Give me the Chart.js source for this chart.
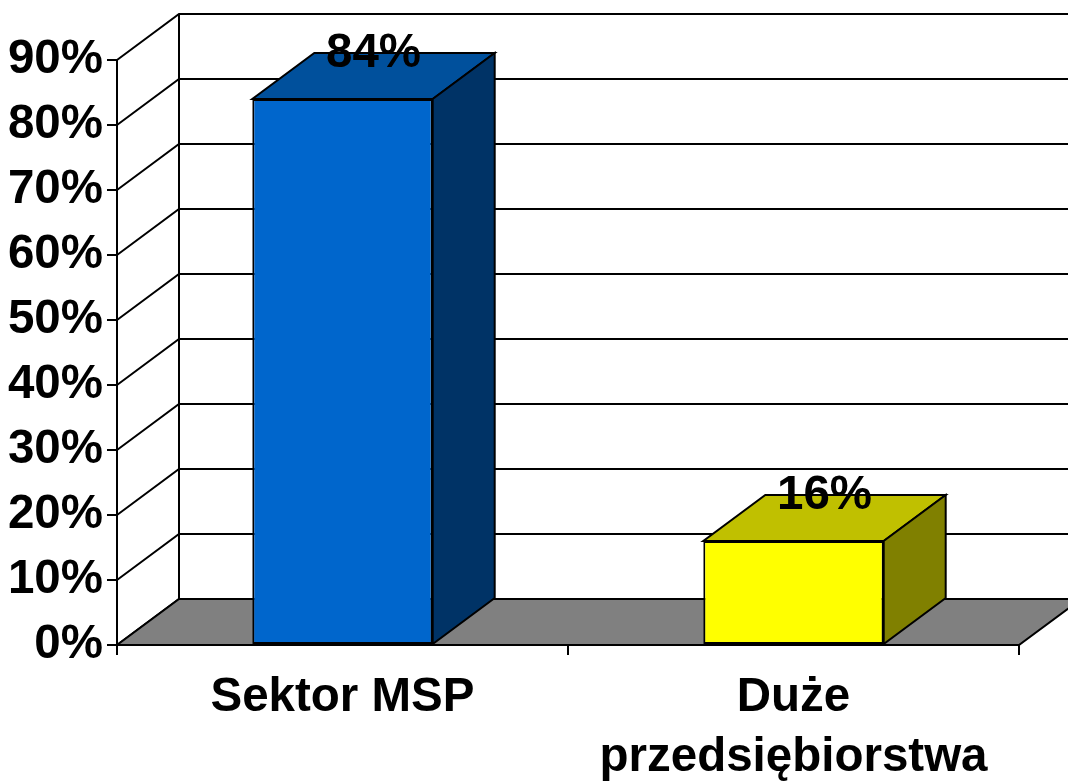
<!DOCTYPE html>
<html>
<head>
<meta charset="utf-8">
<script src="https://cdn.jsdelivr.net/npm/chart.js@4/dist/chart.umd.min.js"></script>
<style>
  html, body { margin: 0; padding: 0; background: #ffffff; }
  #wrap { width: 1068px; height: 782px; }
</style>
</head>
<body>
<div id="wrap"><canvas id="c" width="1068" height="782"></canvas></div>
<script>
// ---- data ----
const categories = [['Sektor MSP'], ['Duże', 'przedsiębiorstwa']];
const shares = [84, 16];
const yMin = 0;
const yMax = 90;
const yStep = 10;

// ---- styles ----
const frontColors = ['#0066CC', '#FFFF00'];
const topColors = ['#00509C', '#C0C000'];
const sideColors = ['#003366', '#808000'];
const floorColor = '#808080';
const DX = 62, DY = 46;
const LW = 2;
const FONT = '"Liberation Sans", Arial, sans-serif';
const FSIZE = 47.5;

const threeD = {
  id: 'threeD',
  beforeDatasetsDraw(chart) {
    const { ctx, chartArea: { left, right, top, bottom }, scales: { y } } = chart;
    ctx.save();
    ctx.strokeStyle = '#000';
    ctx.lineWidth = LW;
    // left wall diagonals + back wall gridlines
    y.ticks.forEach(t => {
      const py = y.getPixelForValue(t.value);
      ctx.beginPath();
      ctx.moveTo(left, py);
      ctx.lineTo(left + DX, py - DY);
      ctx.lineTo(chart.width + 5, py - DY);
      ctx.stroke();
    });
    // back wall left edge
    ctx.beginPath();
    ctx.moveTo(left + DX, bottom - DY);
    ctx.lineTo(left + DX, y.getPixelForValue(yMax) - DY);
    ctx.stroke();
    // floor
    ctx.beginPath();
    ctx.moveTo(left, bottom);
    ctx.lineTo(right, bottom);
    ctx.lineTo(right + DX, bottom - DY);
    ctx.lineTo(left + DX, bottom - DY);
    ctx.closePath();
    ctx.fillStyle = floorColor;
    ctx.fill();
    ctx.stroke();
    ctx.restore();
  },
  afterDatasetsDraw(chart) {
    const { ctx } = chart;
    const meta = chart.getDatasetMeta(0);
    ctx.save();
    ctx.strokeStyle = '#000';
    ctx.lineWidth = LW;
    ctx.lineJoin = 'miter';
    meta.data.forEach((bar, i) => {
      const p = bar.getProps(['x', 'y', 'base', 'width'], true);
      const l = p.x - p.width / 2, r = p.x + p.width / 2;
      // top face
      ctx.beginPath();
      ctx.moveTo(l, p.y);
      ctx.lineTo(r, p.y);
      ctx.lineTo(r + DX, p.y - DY);
      ctx.lineTo(l + DX, p.y - DY);
      ctx.closePath();
      ctx.fillStyle = topColors[i];
      ctx.fill();
      ctx.stroke();
      // side face
      ctx.beginPath();
      ctx.moveTo(r, p.y);
      ctx.lineTo(r + DX, p.y - DY);
      ctx.lineTo(r + DX, p.base - DY);
      ctx.lineTo(r, p.base);
      ctx.closePath();
      ctx.fillStyle = sideColors[i];
      ctx.fill();
      ctx.stroke();
      // value label
      ctx.fillStyle = '#000';
      ctx.font = 'bold ' + FSIZE + 'px ' + FONT;
      ctx.textAlign = 'center';
      ctx.textBaseline = 'alphabetic';
      ctx.fillText(shares[i] + '%', p.x + DX / 2, p.y - DY / 2 - 9);
    });
    ctx.restore();
  }
};

new Chart(document.getElementById('c'), {
  type: 'bar',
  data: {
    labels: categories,
    datasets: [{
      data: shares,
      backgroundColor: frontColors,
      borderColor: '#000',
      borderWidth: LW,
      borderSkipped: false,
      categoryPercentage: 1.0,
      barPercentage: 0.4
    }]
  },
  options: {
    responsive: false,
    devicePixelRatio: 1,
    animation: false,
    layout: { padding: { top: 60, right: 49, left: 0, bottom: 0 } },
    plugins: { legend: { display: false }, tooltip: { enabled: false } },
    scales: {
      x: {
        offset: true,
        afterFit(s) { s.height = 137; },
        grid: { offset: true, drawOnChartArea: false, drawTicks: true, tickLength: 10, color: '#000', lineWidth: LW },
        border: { display: true, color: '#000', width: LW },
        ticks: {
          color: '#000', maxRotation: 0, autoSkip: false, padding: 13,
          font: { family: FONT, size: FSIZE, weight: 'bold', lineHeight: 1.26 }
        }
      },
      y: {
        min: yMin, max: yMax,
        afterFit(s) { s.width = 117; },
        grid: { drawOnChartArea: false, drawTicks: true, tickLength: 10, color: '#000', lineWidth: LW },
        border: { display: true, color: '#000', width: LW },
        ticks: {
          stepSize: yStep, color: '#000', padding: 4,
          font: { family: FONT, size: FSIZE, weight: 'bold' },
          callback: v => v + '%'
        }
      }
    }
  },
  plugins: [threeD]
});
</script>
</body>
</html>
